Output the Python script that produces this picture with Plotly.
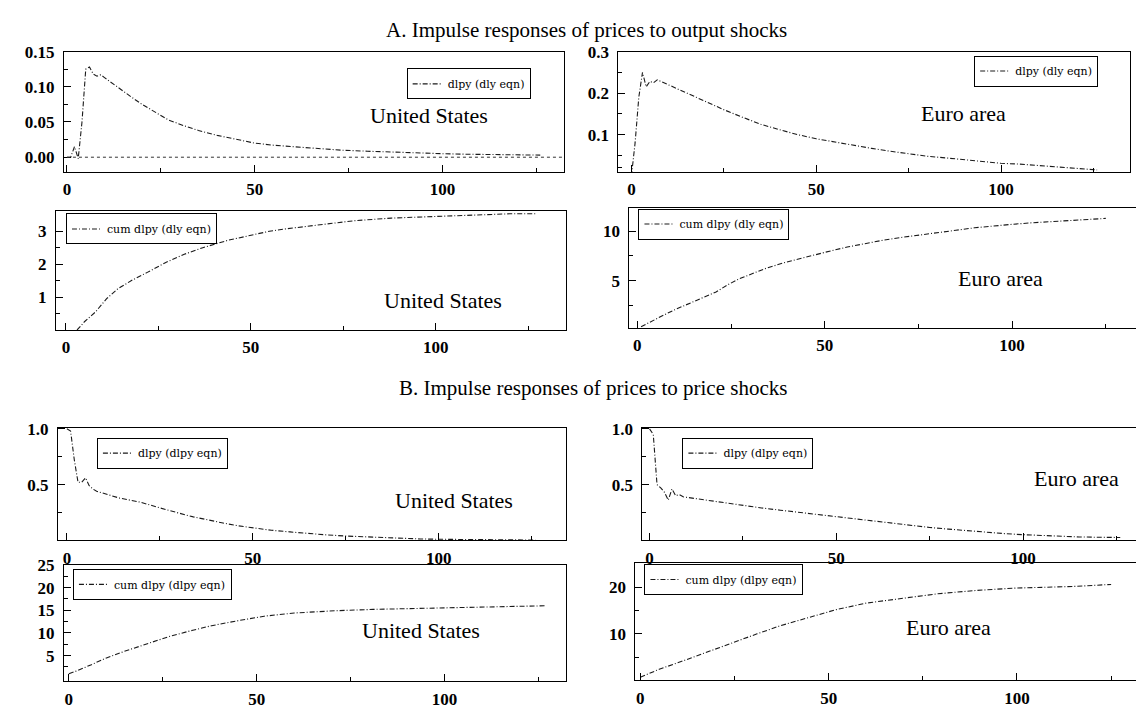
import plotly.graph_objects as go

# ---------------- data ----------------
# A. responses to output shocks
us_out_h = [0, 1, 2, 3, 4, 5, 6, 7, 8, 9, 10, 12, 14, 17, 20, 24, 27, 31, 35, 40, 45, 50,
            55, 60, 67, 73, 80, 86, 93, 100, 107, 114, 120, 126]
us_out = [0.0, 0.0, 0.015, -0.002, 0.05, 0.125, 0.128, 0.118, 0.115, 0.117, 0.113, 0.105,
          0.097, 0.086, 0.075, 0.062, 0.053, 0.045, 0.038, 0.031, 0.025, 0.020, 0.017, 0.015,
          0.012, 0.010, 0.0085, 0.0072, 0.006, 0.005, 0.0042, 0.0036, 0.0032, 0.003]

ea_out_h = [0, 1, 2, 3, 4, 5, 6, 7, 8, 10, 12, 15, 20, 25, 30, 35, 40, 45, 50, 55, 60, 65,
            70, 75, 80, 85, 90, 95, 100, 105, 110, 115, 120, 126]
ea_out = [0.0, 0.08, 0.19, 0.25, 0.215, 0.228, 0.225, 0.232, 0.228, 0.22, 0.212, 0.2, 0.18,
          0.16, 0.142, 0.125, 0.112, 0.1, 0.09, 0.082, 0.075, 0.067, 0.06, 0.054, 0.048,
          0.044, 0.04, 0.035, 0.031, 0.029, 0.026, 0.022, 0.019, 0.015]

us_out_cum_h = [3, 5, 8, 11, 14, 18, 22, 27, 32, 37, 44, 50, 55, 60, 65, 70, 78, 88, 98, 108,
                113, 120, 127]
us_out_cum = [0.0, 0.25, 0.55, 0.95, 1.25, 1.52, 1.75, 2.05, 2.3, 2.5, 2.73, 2.88, 3.0, 3.08,
              3.15, 3.22, 3.32, 3.4, 3.44, 3.48, 3.52, 3.53, 3.53]

ea_out_cum_h = [1, 4, 7, 10, 14, 17, 21, 24, 27, 30, 34, 39, 44, 48, 52, 56, 60, 65, 70, 75,
                80, 85, 90, 95, 100, 105, 110, 115, 120, 125]
ea_out_cum = [0.33, 0.95, 1.5, 2.05, 2.67, 3.2, 3.85, 4.55, 5.15, 5.6, 6.2, 6.8, 7.3, 7.67,
              8.05, 8.4, 8.7, 9.05, 9.35, 9.62, 9.88, 10.1, 10.35, 10.55, 10.7, 10.85, 10.97,
              11.1, 11.2, 11.3]

# B. responses to price shocks
us_pr_h = [0, 1, 2, 3, 4, 5, 6, 7, 8, 10, 12, 14, 17, 20, 24, 27, 30, 34, 38, 42, 46, 50, 55,
           60, 65, 70, 75, 80, 85, 90, 95, 100, 110, 120, 126]
us_pr = [1.0, 0.98, 0.72, 0.52, 0.52, 0.56, 0.49, 0.46, 0.44, 0.42, 0.4, 0.38, 0.36, 0.34, 0.3,
         0.27, 0.245, 0.21, 0.18, 0.155, 0.13, 0.11, 0.09, 0.075, 0.06, 0.048, 0.038, 0.03,
         0.022, 0.017, 0.012, 0.009, 0.005, 0.003, 0.002]

ea_pr_h = [0, 1, 2, 3, 4, 5, 6, 7, 8, 9, 10, 12, 15, 20, 25, 30, 35, 40, 45, 50, 55, 60, 65,
           70, 75, 80, 85, 90, 95, 100, 105, 110, 115, 120, 126]
ea_pr = [1.0, 0.95, 0.5, 0.47, 0.43, 0.36, 0.46, 0.4, 0.41, 0.39, 0.385, 0.375, 0.36, 0.34,
         0.315, 0.29, 0.27, 0.25, 0.23, 0.21, 0.19, 0.17, 0.15, 0.13, 0.115, 0.1, 0.085,
         0.072, 0.06, 0.05, 0.042, 0.035, 0.03, 0.027, 0.025]

us_pr_cum_h = [0, 2, 6, 10, 15, 21, 27, 33, 38, 45, 52, 60, 65, 71, 81, 91, 105, 115, 127]
us_pr_cum = [1.0, 1.6, 3.0, 4.5, 6.0, 7.7, 9.3, 10.6, 11.6, 12.7, 13.7, 14.4, 14.7, 14.9,
             15.2, 15.4, 15.6, 15.8, 16.0]

ea_pr_cum_h = [0, 5, 11, 18, 25, 31, 37, 44, 52, 60, 70, 79, 89, 99, 108, 116, 125]
ea_pr_cum = [0.7, 2.4, 4.1, 6.2, 8.3, 10.0, 11.7, 13.4, 15.2, 16.6, 17.6, 18.6, 19.3, 19.8,
             20.0, 20.2, 20.6]

series_names = ["dlpy (dly eqn)", "dlpy (dly eqn)", "cum dlpy (dly eqn)", "cum dlpy (dly eqn)",
                "dlpy (dlpy eqn)", "dlpy (dlpy eqn)", "cum dlpy (dlpy eqn)", "cum dlpy (dlpy eqn)"]
regions = ["United States", "Euro area"] * 4
titles = ["A. Impulse responses of prices to output shocks",
          "B. Impulse responses of prices to price shocks"]
x_ticks = [0, 50, 100]
x_minor = [25, 75, 125]

# ---------------- layout helpers ----------------
W, H = 1144, 709
SERIF = "Liberation Serif"


def fx(p):
    return p / W


def fy(p):
    return 1 - p / H


data = [(us_out_h, us_out), (ea_out_h, ea_out), (us_out_cum_h, us_out_cum),
        (ea_out_cum_h, ea_out_cum), (us_pr_h, us_pr), (ea_pr_h, ea_pr),
        (us_pr_cum_h, us_pr_cum), (ea_pr_cum_h, ea_pr_cum)]

# box (left, right, top, bottom) in pixels, axis ranges, y ticks
panels = [
    dict(box=(55, 555, 35, 157), xr=[-0.8, 132.2], yr=[-0.021, 0.15],
         ytv=[0, 0.05, 0.10, 0.15], yfmt="%.2f", ymin=[0.025, 0.075, 0.125],
         leg=(398, 52), lab=(420, 100)),
    dict(box=(610, 1122, 35, 157), xr=[-3.5, 134.9], yr=[0.01, 0.3],
         ytv=[0.1, 0.2, 0.3], yfmt="%.1f", ymin=[0.02, 0.05, 0.15, 0.25],
         leg=(966, 39), lab=(955, 98)),
    dict(box=(47, 557, 197, 317), xr=[-2.7, 135.1], yr=[0, 3.6],
         ytv=[1, 2, 3], yfmt="%d", ymin=[0.5, 1.5, 2.5],
         leg=(57, 199), lab=(434, 287)),
    dict(box=(621, 1130, 193, 315), xr=[-2.1, 133.6], yr=[0.2, 12.4],
         ytv=[5, 10], yfmt="%d", ymin=[2.5, 7.5],
         leg=(630, 194), lab=(992, 265)),
    dict(box=(49, 557, 416, 530), xr=[-2.4, 134.1], yr=[0, 1.01],
         ytv=[0.5, 1.0], yfmt="%.1f", ymin=[0.25, 0.75],
         leg=(88, 426), lab=(445, 490)),
    dict(box=(634, 1141, 416, 530), xr=[-1.9, 133.7], yr=[0, 1.01],
         ytv=[0.5, 1.0], yfmt="%.1f", ymin=[0.25, 0.75],
         leg=(674, 426), lab=(1068, 467)),
    dict(box=(55, 557, 555, 673), xr=[-1.3, 132.2], yr=[-0.7, 25],
         ytv=[5, 10, 15, 20, 25], yfmt="%d", ymin=[2.5, 7.5, 12.5, 17.5, 22.5],
         leg=(64, 559), lab=(412, 621)),
    dict(box=(627, 1134, 553, 672), xr=[-1.3, 133.2], yr=[0, 25.2],
         ytv=[10, 20], yfmt="%d", ymin=[5, 15],
         leg=(636, 554), lab=(940, 618)),
]

LINE = dict(color="#1a1a1a", width=1.1, dash="5px,2px,1px,2px")
tickfont = dict(family=SERIF, size=17, color="black", weight="bold")

fig = go.Figure()
layout = dict(width=W, height=H, margin=dict(l=0, r=0, t=0, b=0),
              paper_bgcolor="white", plot_bgcolor="white", showlegend=True)
annotations = []
shapes = []

for i, (p, (hx, hy)) in enumerate(zip(panels, data), start=1):
    sfx = "" if i == 1 else str(i)
    l, r, t, b = p["box"]
    leg_id = "legend" if i == 1 else f"legend{i}"
    fig.add_trace(go.Scatter(x=hx, y=hy, mode="lines", line=LINE, name=series_names[i - 1],
                             xaxis=f"x{sfx}", yaxis=f"y{sfx}", legend=leg_id,
                             hoverinfo="skip"))
    common = dict(showline=True, linecolor="black", linewidth=1, mirror=True,
                  showgrid=False, zeroline=False, ticks="inside", ticklen=7,
                  tickcolor="black", tickwidth=1, tickfont=tickfont, fixedrange=True)
    layout[f"xaxis{sfx}"] = dict(domain=[fx(l), fx(r)], range=p["xr"], anchor=f"y{sfx}",
                                 tickmode="array", tickvals=x_ticks,
                                 ticktext=[str(v) for v in x_ticks],
                                 minor=dict(tickmode="array", tickvals=x_minor, ticks="inside",
                                            ticklen=4, tickcolor="black"),
                                 ticklabelstandoff=2, **common)
    layout[f"yaxis{sfx}"] = dict(domain=[fy(b), fy(t)], range=p["yr"], anchor=f"x{sfx}",
                                 tickmode="array", tickvals=p["ytv"],
                                 ticktext=[p["yfmt"] % v for v in p["ytv"]],
                                 minor=dict(tickmode="array", tickvals=p["ymin"],
                                            ticks="inside", ticklen=4, tickcolor="black"),
                                 ticklabelstandoff=5, **common)
    lx, ly = p["leg"]
    layout[leg_id] = dict(x=fx(lx), y=fy(ly), xanchor="left", yanchor="top",
                          bgcolor="white", bordercolor="black", borderwidth=1,
                          font=dict(family="DejaVu Serif", size=11, color="black"),
                          itemwidth=30, tracegroupgap=0, itemclick=False,
                          itemdoubleclick=False)
    cx, cy = p["lab"]
    annotations.append(dict(x=fx(cx), y=fy(cy), xref="paper", yref="paper",
                            text=regions[i - 1], showarrow=False,
                            font=dict(family=SERIF, size=22, color="black"),
                            xanchor="center", yanchor="middle"))

# zero reference line in the first panel
shapes.append(dict(type="line", xref="x", yref="y", x0=0, x1=132, y0=0, y1=0,
                   line=dict(color="#333", width=1, dash="dot")))

annotations.append(dict(x=fx(578), y=fy(13), xref="paper", yref="paper", text=titles[0],
                        showarrow=False, font=dict(family=SERIF, size=21, color="black"),
                        xanchor="center", yanchor="middle"))
annotations.append(dict(x=fx(585), y=fy(376), xref="paper", yref="paper", text=titles[1],
                        showarrow=False, font=dict(family=SERIF, size=21, color="black"),
                        xanchor="center", yanchor="middle"))

layout["annotations"] = annotations
layout["shapes"] = shapes
fig.update_layout(**layout)
fig.write_html("out.html", config={"displayModeBar": False})
